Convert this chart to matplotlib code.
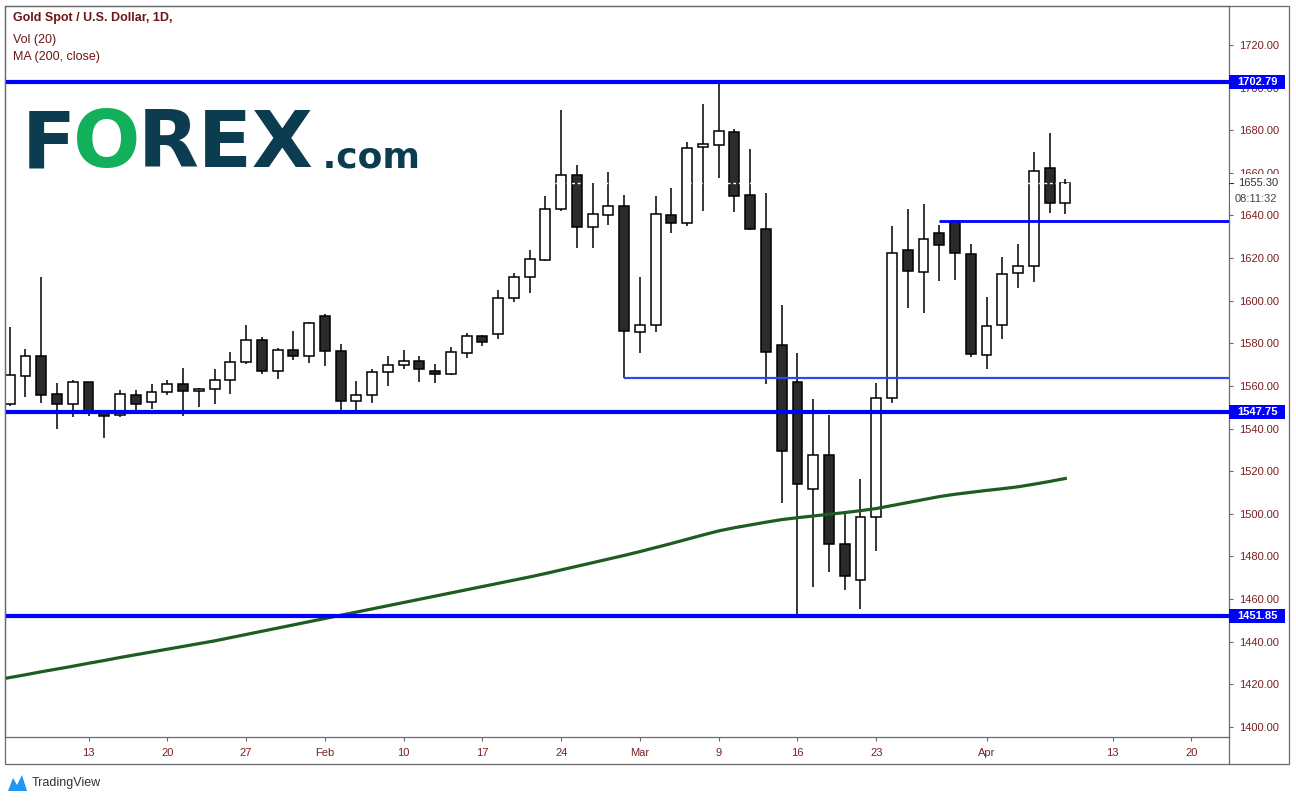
import numpy as np
import pandas as pd
import matplotlib
matplotlib.use("Agg")
import matplotlib.pyplot as plt
from matplotlib.patches import Rectangle, Polygon
from matplotlib.lines import Line2D
from matplotlib.transforms import blended_transform_factory

# daily OHLC, Gold spot, 6 Jan - 8 Apr 2020
opens = [1551.4, 1564.8, 1573.9, 1556.1, 1551.7, 1561.7, 1547.2, 1546.2, 1555.6, 1552.3,
         1557.0, 1560.8, 1557.5, 1558.4, 1562.7, 1571.1, 1581.4, 1566.8, 1576.7, 1573.9,
         1592.7, 1576.3, 1552.8, 1555.6, 1566.4, 1569.7, 1571.6, 1566.8, 1565.5, 1575.3,
         1583.3, 1584.2, 1601.1, 1611.3, 1619.0, 1642.9, 1658.8, 1634.5, 1640.1, 1644.3,
         1585.2, 1588.5, 1640.1, 1636.3, 1672.0, 1672.9, 1679.0, 1649.5, 1633.5, 1579.1,
         1561.7, 1511.6, 1527.4, 1485.7, 1468.8, 1498.4, 1554.2, 1623.7, 1613.3, 1631.6,
         1637.3, 1621.8, 1574.4, 1588.5, 1612.9, 1616.1, 1662.1, 1645.7]
highs = [1587.8, 1577.3, 1611.3, 1561.4, 1562.8, 1562.0, 1548.0, 1558.1, 1558.1, 1560.9,
         1562.8, 1568.6, 1559.0, 1568.0, 1575.9, 1588.6, 1582.8, 1577.7, 1585.8, 1590.0,
         1593.6, 1579.6, 1562.2, 1567.8, 1573.9, 1576.7, 1573.9, 1570.2, 1578.2, 1584.7,
         1584.0, 1604.9, 1612.9, 1623.8, 1649.1, 1689.5, 1663.7, 1655.2, 1660.4, 1649.5,
         1611.0, 1649.1, 1652.8, 1674.3, 1692.3, 1702.8, 1680.4, 1671.1, 1650.4, 1598.0,
         1575.5, 1553.9, 1546.2, 1501.2, 1516.2, 1561.2, 1635.1, 1643.0, 1645.4, 1635.4,
         1637.6, 1626.5, 1601.6, 1620.4, 1626.5, 1669.6, 1678.6, 1657.0]
lows = [1550.5, 1555.0, 1552.1, 1540.0, 1545.6, 1546.0, 1535.7, 1545.5, 1548.7, 1549.3,
        1555.9, 1546.0, 1550.0, 1551.7, 1556.4, 1570.5, 1565.5, 1563.1, 1572.0, 1570.6,
        1569.5, 1548.7, 1548.2, 1552.2, 1560.1, 1567.8, 1562.0, 1561.5, 1565.0, 1573.0,
        1578.6, 1582.2, 1599.3, 1603.8, 1618.5, 1642.0, 1624.9, 1624.9, 1635.4, 1563.6,
        1575.3, 1585.2, 1631.6, 1634.9, 1642.2, 1657.4, 1641.5, 1633.0, 1560.8, 1504.9,
        1451.9, 1465.5, 1472.6, 1464.1, 1455.2, 1482.7, 1552.0, 1596.7, 1594.4, 1609.4,
        1609.9, 1573.4, 1567.8, 1581.9, 1605.8, 1608.9, 1641.0, 1640.6]
closes = [1565.0, 1573.9, 1555.9, 1551.7, 1561.7, 1548.4, 1545.8, 1556.1, 1551.7, 1557.0,
          1560.8, 1557.5, 1558.4, 1562.8, 1571.1, 1581.4, 1566.8, 1576.7, 1573.9, 1589.4,
          1576.3, 1552.8, 1555.6, 1566.4, 1569.7, 1571.6, 1567.8, 1565.5, 1575.8, 1583.3,
          1580.5, 1601.1, 1611.0, 1619.4, 1642.9, 1658.8, 1634.5, 1640.6, 1644.3, 1585.6,
          1588.5, 1640.6, 1636.3, 1671.5, 1673.4, 1679.5, 1649.0, 1633.5, 1575.8, 1529.3,
          1513.9, 1527.4, 1485.7, 1470.7, 1498.4, 1554.2, 1622.3, 1613.8, 1628.8, 1626.0,
          1622.3, 1574.9, 1588.0, 1612.4, 1616.1, 1660.7, 1645.7, 1655.3]

# 200 day moving average, one value per bar (first value is the bar before 6 Jan)
ma200 = [1421.9, 1423.2, 1424.5, 1425.9, 1427.2, 1428.5, 1429.9, 1431.2, 1432.6, 1433.9,
         1435.2, 1436.5, 1437.8, 1439.1, 1440.4, 1441.9, 1443.4, 1444.9, 1446.4, 1447.9,
         1449.4, 1450.9, 1452.4, 1453.9, 1455.4, 1456.9, 1458.4, 1459.9, 1461.4, 1462.9,
         1464.4, 1465.9, 1467.4, 1468.9, 1470.4, 1472.0, 1473.7, 1475.4, 1477.1, 1478.8,
         1480.5, 1482.3, 1484.2, 1486.1, 1488.1, 1490.1, 1492.0, 1493.5, 1494.8, 1496.1,
         1497.3, 1498.2, 1499.0, 1499.8, 1500.6, 1501.5, 1502.5, 1503.9, 1505.3, 1506.7,
         1508.1, 1509.2, 1510.1, 1511.0, 1511.8, 1512.7, 1513.9, 1515.2, 1516.6]

levels = [1702.79, 1547.75, 1451.85]
level_labels = ["1702.79", "1547.75", "1451.85"]
ray_prices = [1563.6, 1637.3]
ray_start = ["2020-02-28", "2020-03-27"]
last_price = 1655.30

tick_dates = ["2020-01-13", "2020-01-20", "2020-01-27", "2020-02-03", "2020-02-10",
              "2020-02-17", "2020-02-24", "2020-03-02", "2020-03-09", "2020-03-16",
              "2020-03-23", "2020-04-01", "2020-04-13", "2020-04-20"]
tick_labels = ["13", "20", "27", "Feb", "10", "17", "24", "Mar", "9", "16", "23",
               "Apr", "13", "20"]

days = pd.bdate_range("2020-01-06", "2020-04-30")
opens, highs, lows, closes = map(np.array, (opens, highs, lows, closes))
idx = np.arange(len(opens))

W, H = 1296, 801
fig = plt.figure(figsize=(W / 100, H / 100), dpi=100)
fig.patch.set_facecolor("white")
ax = fig.add_axes([5 / W, 1 - 737 / H, (1229 - 5) / W, (737 - 6) / H])

red = "#7a2020"
frame = "#6a6a6a"

# candles
ax.vlines(idx, lows, highs, color="black", lw=1.1, zorder=2)
up = closes >= opens
body_b = np.minimum(opens, closes)
body_h = np.maximum(np.abs(closes - opens), 0.4)
ax.bar(idx, body_h, bottom=body_b, width=0.63,
       color=np.where(up, "white", "#2b2b2b"), edgecolor="black", linewidth=1.1, zorder=3)

# last price dotted line (only shows on the candles)
ax.axhline(last_price, color="white", lw=1.0, ls=(0, (2, 2)), zorder=3.5)

# MA 200
ax.plot(np.arange(-1, len(ma200) - 1), ma200, color="#1e5c22", lw=2.3, zorder=4)

# support / resistance
for lvl in levels:
    ax.axhline(lvl, color="#0000ff", lw=3.0, zorder=5)
for p, d, c, w in zip(ray_prices, ray_start, ["#3344f0", "#0000ff"], [1.6, 2.0]):
    ax.hlines(p, days.get_loc(pd.Timestamp(d)), 90, color=c, lw=w, zorder=5)

ax.set_xlim(-0.30, 77.39)
ax.set_ylim(1395.3, 1738.3)

ax.yaxis.tick_right()
yt = np.arange(1400, 1721, 20)
ax.set_yticks(yt)
ax.set_yticklabels([f"{v:.2f}" for v in yt])
ax.set_xticks([days.get_loc(pd.Timestamp(d)) for d in tick_dates])
ax.set_xticklabels(tick_labels)
ax.tick_params(axis="y", length=3, width=0.8, color=frame, labelcolor=red,
               labelsize=8, pad=4)
ax.tick_params(axis="x", length=3, width=0.8, color=frame, labelcolor=red,
               labelsize=8, pad=5)
for lab in ax.get_xticklabels() + ax.get_yticklabels():
    lab.set_family("Liberation Sans")
for s in ax.spines.values():
    s.set_color(frame)
    s.set_linewidth(0.9)

# price labels on the axis
tr = blended_transform_factory(ax.transAxes, ax.transData)
box_w = 56 / 1224
box_h = 7.0 / 2.131
for lvl, lab in zip(levels, level_labels):
    ax.add_patch(Rectangle((1.0, lvl - box_h), box_w, 2 * box_h, transform=tr,
                           facecolor="#0000ff", edgecolor="none", clip_on=False, zorder=10))
    ax.text(1.0 + 8 / 1224, lvl, lab, transform=tr, color="white", fontsize=8,
            fontweight="bold", family="Liberation Sans", va="center", ha="left",
            clip_on=False, zorder=11)

# current price and countdown
ax.add_patch(Rectangle((1.0 + 1 / 1224, last_price - 4.0), 54 / 1224, 8.0, transform=tr,
                       facecolor="white", edgecolor="none", clip_on=False, zorder=10))
ax.text(1.0 + 9 / 1224, last_price, f"{last_price:.2f}", transform=tr, color="#333333",
        fontsize=8, family="Liberation Sans", va="center", ha="left", clip_on=False, zorder=11)
ax.add_line(Line2D([1.0, 1.0 + 4 / 1224], [last_price, last_price], transform=tr,
                   color="#333333", lw=0.8, clip_on=False, zorder=11))
ax.add_patch(Rectangle((1.0 + 1 / 1224, last_price - 10.8), 54 / 1224, 6.6, transform=tr,
                       facecolor="white", edgecolor="none", clip_on=False, zorder=10))
ax.text(1.0 + 6 / 1224, last_price - 7.4, "08:11:32", transform=tr, color="#444444",
        fontsize=8, family="Liberation Sans", va="center", ha="left", clip_on=False, zorder=11)

# outer frame
fig.add_artist(Rectangle((5 / W, 1 - 764 / H), (1289 - 5) / W, (764 - 6) / H,
                         transform=fig.transFigure, fill=False, edgecolor=frame, lw=0.9))
fig.add_artist(Line2D([1229 / W, 1229 / W], [1 - 737 / H, 1 - 764 / H],
                      transform=fig.transFigure, color=frame, lw=0.9))

# header
fig.text(13 / W, 1 - 18 / H, "Gold Spot / U.S. Dollar, 1D,", color="#6e1616", fontsize=9,
         fontweight="bold", family="Liberation Sans", va="center")
fig.text(13 / W, 1 - 40 / H, "Vol (20)", color="#6e1616", fontsize=9,
         family="Liberation Sans", va="center")
fig.text(13 / W, 1 - 57 / H, "MA (200, close)", color="#6e1616", fontsize=9,
         family="Liberation Sans", va="center")

# FOREX.com logo
renderer = fig.canvas.get_renderer()
teal = "#0b3c4f"
x0 = 22
base = 1 - 167 / H
for txt, col, size in [("F", teal, 57), ("O", "#12b05a", 57), ("REX", teal, 57),
                       (" .com", teal, 26)]:
    t = fig.text(x0 / W, base, txt, color=col, fontsize=size, fontweight="heavy",
                 family="DejaVu Sans", va="baseline", ha="left")
    bb = t.get_window_extent(renderer)
    x0 = bb.x1 - 3

# TradingView footer
fig.add_artist(Polygon([(8 / W, 1 - 791 / H), (13 / W, 1 - 778 / H), (17 / W, 1 - 785 / H),
                        (22 / W, 1 - 775 / H), (27 / W, 1 - 791 / H)],
                       closed=True, transform=fig.transFigure, facecolor="#2196f3",
                       edgecolor="none"))
fig.text(32 / W, 1 - 783 / H, "TradingView", color="#333333", fontsize=9,
         family="Liberation Sans", va="center")

fig.savefig("out.png", dpi=100)
